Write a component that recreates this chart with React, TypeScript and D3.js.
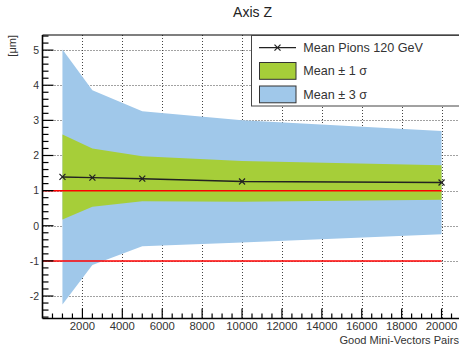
import React from "react";
import * as d3 from "d3";

const pairs = [1000, 2500, 5000, 10000, 20000];
const meanValues = [1.39, 1.37, 1.34, 1.26, 1.23];
const sigmaValues = [1.21, 0.83, 0.64, 0.58, 0.49];
const xTicks = [2000, 4000, 6000, 8000, 10000, 12000, 14000, 16000, 18000, 20000];
const yTicks = [-2, -1, 0, 1, 2, 3, 4, 5];
const refLines = [1, -1];
const legendLabels = ["Mean Pions 120 GeV", "Mean \u00b1 1 \u03c3", "Mean \u00b1 3 \u03c3"];

const W = 459;
const H = 350;
const FONT = "'Liberation Sans', Arial, Helvetica, sans-serif";
const BLUE = "#a0c8ea";
const GREEN = "#a6ce39";

export default function App() {
  const x = d3.scaleLinear().domain([0, 21000]).range([42.5, 461.5]);
  const y = d3.scaleLinear().domain([-2.64, 5.43]).range([318.5, 35]);
  const x0 = x.range()[0];
  const x1 = x.range()[1];
  const yb = y.range()[0];
  const yt = y.range()[1];

  const rows = pairs.map((p, i) => ({ p, m: meanValues[i], s: sigmaValues[i] }));
  const band = (k: number) =>
    d3
      .area<{ p: number; m: number; s: number }>()
      .x((d) => x(d.p))
      .y0((d) => y(d.m - k * d.s))
      .y1((d) => y(d.m + k * d.s))(rows) || "";
  const meanLine =
    d3
      .line<{ p: number; m: number }>()
      .x((d) => x(d.p))
      .y((d) => y(d.m))(rows) || "";

  const xMinor = d3.range(500, 21000, 500).filter((v) => v % 2000 !== 0);
  const yMinor = d3.range(-2.6, 5.41, 0.2).filter((v) => Math.abs(v - Math.round(v)) > 0.01);

  const cross = (cx: number, cy: number, key: string) => (
    <g key={key} stroke="#222" strokeWidth={1.2}>
      <line x1={cx - 3} y1={cy - 3} x2={cx + 3} y2={cy + 3} />
      <line x1={cx - 3} y1={cy + 3} x2={cx + 3} y2={cy - 3} />
    </g>
  );

  const legX = 251.5;
  const legY = 35.5;
  const rowY = [47.7, 70.8, 94.3];

  return (
    <svg
      width={W}
      height={H}
      style={{ position: "absolute", left: 0, top: 0, background: "#fff" }}
      fontFamily={FONT}
    >
      <rect x={0} y={0} width={W} height={H} fill="#fff" />
      {/* grid */}
      <g stroke="#444" strokeWidth={1} strokeDasharray="1 2">
        {xTicks.map((t) => (
          <line key={"gx" + t} x1={Math.round(x(t)) + 0.5} x2={Math.round(x(t)) + 0.5} y1={yt} y2={yb} />
        ))}
        {yTicks.map((t) => (
          <line key={"gy" + t} x1={x0} x2={x1} y1={Math.round(y(t)) + 0.5} y2={Math.round(y(t)) + 0.5} />
        ))}
      </g>
      {/* bands */}
      <path d={band(3)} fill={BLUE} />
      <path d={band(1)} fill={GREEN} />
      {/* reference lines */}
      {refLines.map((r) => (
        <line key={"r" + r} x1={x0} x2={x(20000)} y1={y(r)} y2={y(r)} stroke="#ff0000" strokeWidth={1.5} />
      ))}
      {/* mean line */}
      <path d={meanLine} fill="none" stroke="#222" strokeWidth={1.4} />
      {rows.map((d, i) => cross(x(d.p), y(d.m), "m" + i))}
      {/* frame */}
      <g stroke="#000">
        <line x1={x0} x2={x0} y1={yt} y2={yb} strokeWidth={1.6} />
        <line x1={x0} x2={x1} y1={yb} y2={yb} strokeWidth={1.6} />
        <line x1={x0} x2={x1} y1={yt} y2={yt} strokeWidth={1.2} />
        {xTicks.map((t) => (
          <line key={"tx" + t} x1={x(t)} x2={x(t)} y1={yb} y2={yb - 10} strokeWidth={1.2} />
        ))}
        {xMinor.map((t) => (
          <line key={"mx" + t} x1={x(t)} x2={x(t)} y1={yb} y2={yb - 5} strokeWidth={1.2} />
        ))}
        {yTicks.map((t) => (
          <line key={"ty" + t} x1={x0} x2={x0 + 11} y1={y(t)} y2={y(t)} strokeWidth={1.2} />
        ))}
        {yMinor.map((t) => (
          <line key={"my" + t.toFixed(1)} x1={x0} x2={x0 + 6} y1={y(t)} y2={y(t)} strokeWidth={1.2} />
        ))}
      </g>
      {/* tick labels */}
      <g fill="#333" fontSize={11.3} textAnchor="middle">
        {xTicks.map((t) => (
          <text key={"lx" + t} x={x(t)} y={330}>
            {t}
          </text>
        ))}
      </g>
      <g fill="#333" fontSize={10.5} textAnchor="end">
        {yTicks.map((t) => (
          <text key={"ly" + t} x={39} y={y(t)} dy="0.36em">
            {t}
          </text>
        ))}
      </g>
      {/* axis titles */}
      <text x={459} y={344} fontSize={11.1} textAnchor="end" fill="#333">
        Good Mini-Vectors Pairs
      </text>
      <text transform="translate(16,35) rotate(-90)" fontSize={11} textAnchor="end" fill="#333">
        [{"\u03bc"}m]
      </text>
      {/* title */}
      <text x={252.5} y={17} fontSize={14} textAnchor="middle" fill="#222">
        Axis Z
      </text>
      {/* legend */}
      <rect x={legX} y={legY} width={230} height={70.5} fill="#fff" stroke="#444" strokeWidth={1} />
      <line x1={259} x2={296} y1={rowY[0]} y2={rowY[0]} stroke="#222" strokeWidth={1.2} />
      {cross(277.5, rowY[0], "legm")}
      <rect x={259.5} y={62.5} width={36.5} height={16.8} fill={GREEN} stroke="#333" strokeWidth={1} />
      <rect x={259.5} y={86} width={36.5} height={16.8} fill={BLUE} stroke="#333" strokeWidth={1} />
      <g fill="#333" fontSize={12.6}>
        {legendLabels.map((l, i) => (
          <text key={"leg" + i} x={303.3} y={rowY[i]} dy="0.36em">
            {l}
          </text>
        ))}
      </g>
    </svg>
  );
}
